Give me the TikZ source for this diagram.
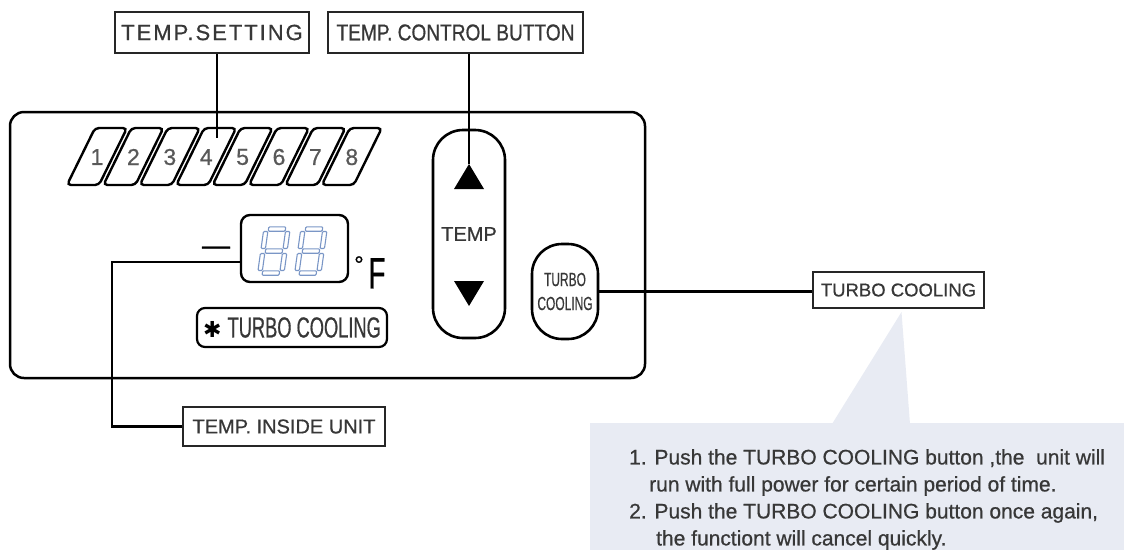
\documentclass[tikz,border=0pt]{standalone}
\usepackage{fontspec}
\setmainfont{Liberation Sans}[FakeBold=0.7]
\newfontfamily\condfont[FakeStretch=0.83, FakeBold=0.7]{Liberation Sans}
\newfontfamily\narrowfont[FakeStretch=0.63, FakeBold=0.5]{Liberation Sans}
\newfontfamily\symfont{DejaVu Sans}
\usepackage{tikz}
\usetikzlibrary{calc}
\definecolor{lcdblue}{RGB}{122,150,198}
\definecolor{notebg}{RGB}{232,235,243}
\definecolor{inkgrey}{RGB}{55,55,55}
\tikzstyle{tag} = [
    rectangle,
    draw=black!85,
    line width=2pt,
    inner sep=0pt,
    text=inkgrey
]
\tikzstyle{btn} = [
    rectangle,
    rounded corners=30pt,
    draw=black,
    line width=2.6pt,
    inner sep=0pt,
    text=inkgrey
]
\tikzstyle{slotbox} = [
    draw=black,
    line width=2.4pt,
    rounded corners=4pt
]
\tikzstyle{digit} = [
    inner sep=0pt,
    text=black!65,
    font=\fontsize{23}{23}\selectfont
]
\tikzstyle{wire} = [
    line width=2.2pt,
    draw=black
]
\tikzstyle{seg} = [
    draw=lcdblue,
    line width=1.1pt,
    rounded corners=1pt
]
% one hollow 7-segment digit, top left corner at (#1,#2)
\newcommand{\lcddigit}[2]{
    \begin{scope}[shift={(#1,#2)}, xslant=0.14]
        \foreach \yy in {0,22,44}
            \draw[seg] (2.5,\yy-2.2) rectangle (19.5,\yy+2.2);
        \foreach \xx in {0,22}{
            \draw[seg] (\xx-2.2,2.5) rectangle (\xx+2.2,19.5);
            \draw[seg] (\xx-2.2,24.5) rectangle (\xx+2.2,41.5);
        }
    \end{scope}
}

\begin{document}
\begin{tikzpicture}[x=1pt, y=-1pt]
    \useasboundingbox (0,0) rectangle (1124,550);

    % control panel
    \node[draw, line width=2.5pt, rounded corners=14pt, minimum width=635, minimum height=266, inner sep=0pt] (panel) at (327.5,245) {};

    % labels (top)
    \node[tag, minimum width=194, minimum height=41, font=\fontsize{22}{25}\selectfont\addfontfeature{LetterSpace=9}] (setting) at (212,32.5) {TEMP.SETTING};
    \node[tag, minimum width=255, minimum height=41, font=\condfont\fontsize{23}{25}\selectfont] (ctrl) at (455.5,32.5) {TEMP. CONTROL BUTTON};

    % temperature setting slots
    \foreach \i in {1,...,8}{
        \pgfmathsetmacro\bx{67+(\i-1)*36.4}
        \draw[slotbox] (\bx,185) -- ++(32,0) -- ++(28,-57) -- ++(-32,0) -- cycle;
        \node[digit] (slot\i) at (\bx+30,157) {\i};
    }
    \coordinate (settip) at (217,138);
    \draw[wire] (settip |- setting.south) -- (settip);

    % display
    \node[draw, line width=2.4pt, rounded corners=9pt, minimum width=107, minimum height=67, inner sep=0pt] (display) at (294.5,248.5) {};
    \lcddigit{266}{229}
    \lcddigit{303}{229}
    \node[inner sep=0pt, anchor=north, font=\fontsize{28}{28}\selectfont] (minus) at (216,246.5) {—};
    \node[inner sep=0pt, anchor=north, font=\fontsize{24}{24}\selectfont] (deg) at (359,256) {°};
    \node[inner sep=0pt, anchor=north, font=\narrowfont\fontsize{44}{44}\selectfont] (fahr) at (377,258) {F};

    % turbo indicator
    \node[draw, line width=2.2pt, rounded corners=8pt, minimum width=190, minimum height=39, inner sep=0pt, text=inkgrey] (turboind) at (292,327.5) {{\symfont\fontsize{22}{22}\selectfont\textcolor{black}{✱}}\hspace{6pt}{\narrowfont\fontsize{29}{29}\selectfont TURBO COOLING}};

    % temp button
    \node[btn, minimum width=72, minimum height=208, font=\fontsize{20}{20}\selectfont] (tempbtn) at (469,234) {TEMP};
    \coordinate (uptip) at (469,164);
    \coordinate (downtip) at (469,306);
    \fill (uptip) -- ++(15,25) -- ++(-30,0) -- cycle;
    \fill (downtip) -- ++(15,-25) -- ++(-30,0) -- cycle;
    \draw[wire] (uptip |- ctrl.south) -- (uptip);

    % turbo button
    \node[btn, minimum width=66, minimum height=95, align=center, font=\narrowfont\fontsize{19}{24}\selectfont] (turbobtn) at (565,291.5) {TURBO\\COOLING};
    \node[tag, minimum width=171, minimum height=36, font=\fontsize{18.5}{22}\selectfont] (turbolabel) at (898.5,290) {TURBO COOLING};
    \draw[wire] (turbobtn.east) -- (turbobtn.east -| turbolabel.west);

    % temp inside unit
    \node[tag, minimum width=202, minimum height=39, font=\fontsize{20}{22}\selectfont] (inside) at (284,426.5) {TEMP. INSIDE UNIT};
    \coordinate (dispin) at ($(display.west)+(0,13.5)$);
    \draw[wire] (dispin) -- ++(-128,0) |- (inside.west);

    % note (bottom right)
    \node[fill=notebg, minimum width=534, minimum height=127, inner sep=0pt] (note) at (857,486.5) {};
    \fill[notebg] ($(turbolabel.south)+(3,3)$) -- (910,424) -- (832,424) -- cycle;
    \node[anchor=north west, inner sep=0pt, align=left, text=inkgrey, font=\fontsize{21}{27}\selectfont] (notetext) at (629,449) {1. Push the TURBO COOLING button ,the\ \ unit will\\
        \hspace*{20pt}run with full power for certain period of time.\\
        2. Push the TURBO COOLING button once again,\\
        \hspace*{27pt}the functiont will cancel quickly.};
\end{tikzpicture}
\end{document}
